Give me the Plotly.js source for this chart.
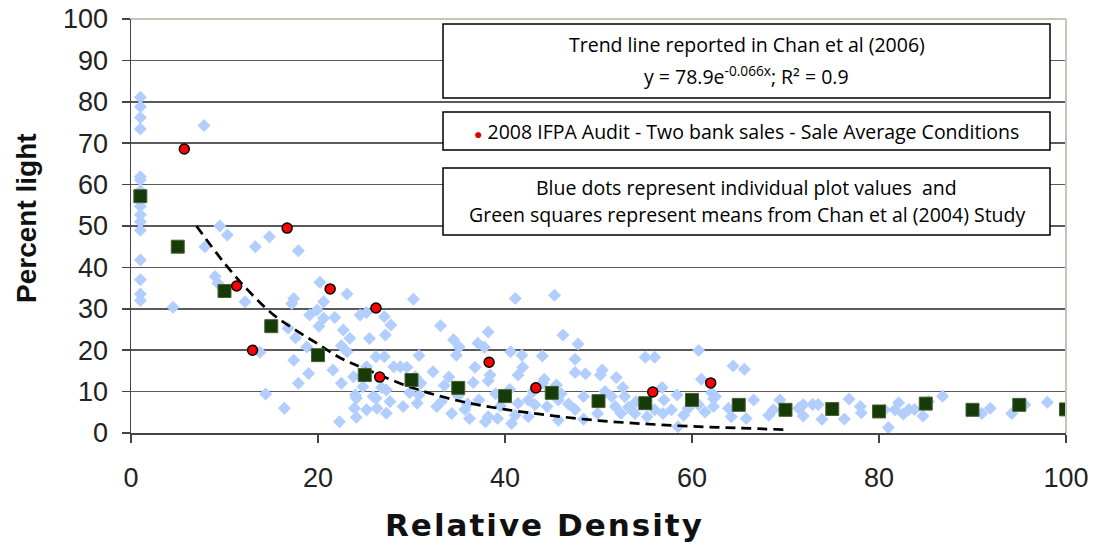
<!DOCTYPE html>
<html>
<head>
<meta charset="utf-8">
<script src="https://cdn.plot.ly/plotly-3.0.1.min.js"></script>
<style>html,body{margin:0;padding:0;background:#fff;}#chart{width:1094px;height:546px;}</style>
</head>
<body>
<div id="chart"></div>
<script>
// Individual plot values (blue diamonds)
const blueX = [
1,1,1,1,1,1,1,1,1,1,1,1,1,1,1,
4.5,7.8,9.5,10.3,7.9,13.3,14.8,17.9,9,9.3,12.2,
20.2,23.1,17.4,17.2,20.6,30.2,
19.1,19.9,20.6,21.8,20.1,24.5,25.2,27.1,27.8,
16.8,17.6,22.7,23.4,27.2,25.5,
18.8,22.5,13.8,23.1,26.2,27.1,30.8,17.4,
21.6,19,22.5,23.8,25.2,28.1,28.8,29.5,32.3,30.4,
24.8,25.9,27.3,27.7,29.1,30.6,24.1,23.9,25.2,26.3,27.3,24.1,22.3,16.4,14.4,17.9,32.7,
41.1,33.1,38.2,34.5,35.1,37.1,37.8,40.6,41.8,34.8,36.8,38.4,38.2,36.6,41.9,41.4,
26.8,30.8,29.8,24,26.2,33.2,34.3,35.7,36.2,38.2,37.9,40.7,41.1,39.2,37.2,41.4,
33.5,35,36,39,39.5,40.5,31,34,
45.3,46.2,47.8,44,47.5,47.5,48.6,50.4,50.2,51.9,55,56,60.7,44.2,45.5,52.6,56.8,61,62.1,62.3,
48.4,50.7,51.4,52.8,58.4,42.5,43.2,44.5,45.7,46.8,47.5,42.5,45.7,48.4,49.9,51.8,52.4,53.2,53.9,55.2,56,56.9,57.8,59.1,59.6,60.7,61.4,62.3,58.5,43,44,46,54,57,
64.4,65.6,62.5,63.9,64.2,65.8,66.6,68.2,68.7,69.4,71.4,71.9,71.9,72.9,73.5,73.9,76.3,76.8,78,78.1,81,80.6,81.7,82.1,82.6,83.2,83.8,84.7,85.3,86.8,91,91.9,94.2,95.6,98
];
const blueY = [
81.1,78.8,76.2,73.4,61.9,61.1,58.5,54.8,52.7,51,49,41.8,37,33.6,32,
30.4,74.3,50,47.8,45,45,47.4,44,37.8,36.2,31.7,
36.4,33.6,32.5,31.3,31.7,32.3,
28.5,29.7,27.7,27.9,25.8,28.5,29.1,28.1,26.1,
25.3,23,24.9,22.9,23.7,22.8,
20.8,21.1,19.5,19.6,18.4,18.4,18.7,17.6,
15.2,14.4,12,13.6,16,16,16,15.9,14.8,13.6,
11.2,8.8,10.4,7.6,6.4,7.2,8.4,6,5.6,6,4.8,3.8,2.7,6,9.4,12,6.4,
32.5,25.9,24.4,22.5,20.8,21.7,20.7,19.6,18.8,18.8,15.9,14,12.6,12.2,15.9,14,
11,9.2,9.7,9.2,8.4,7.6,4.7,5.7,3.5,3.9,2.7,2.3,4.3,3.5,8,7.2,
11.5,9,7,9.5,6.5,10.5,12,13.5,
33.3,23.7,21.5,18.6,17.8,14.6,14.3,15.2,14,13.4,18.3,18.3,19.9,13,11.6,11,11,13,9.7,8.3,
8.8,10,8.8,8.8,9.2,8,6.8,6.4,8,7,5.7,3.9,3.1,3.3,4.7,6.4,4.7,6.2,4.7,3.9,5.6,4.7,5.6,4.3,6,6.8,5.1,6.4,1.5,10,12,9.5,7.5,8,
16.2,15.4,8.8,6,3.9,3.5,8,4.3,5.6,8,6,6.8,4.1,6.9,6.9,3.3,3.4,8.2,6.4,4.9,1.3,5.6,5.6,7.3,4.6,5.7,5.7,4.1,7.6,8.9,4.7,6,4.7,6.8,7.4
];

// Means from Chan et al (2004) (green squares)
const meanX = [1,5,10,15,20,25,30,35,40,45,50,55,60,65,70,75,80,85,90,95,100];
const meanY = [57.2,45,34.3,25.8,18.8,14,12.8,10.9,8.9,9.7,7.7,7.2,8,6.8,5.6,5.8,5.2,7.1,5.6,6.8,5.7];

// 2008 IFPA Audit (red dots)
const auditX = [5.7,11.3,13,16.7,21.3,26.2,26.6,38.3,43.3,55.8,62];
const auditY = [68.6,35.5,20,49.5,34.8,30.2,13.5,17.1,10.9,9.9,12.1];

// Trend line (Chan et al 2006)
const trendX = [7,10,12.5,15,17.5,20,22.5,25,30,35,40,45,50,55,60,65,70];
const trendY = [50,41,34.5,29,25,21.5,18,15.5,11,7.8,5.7,4.2,3.0,2.2,1.6,1.2,0.8];

const xTicks = [0,20,40,60,80,100];
const yTicks = [0,10,20,30,40,50,60,70,80,90,100];

const traces = [
  {x: blueX, y: blueY, type: 'scatter', mode: 'markers',
   marker: {symbol: 'diamond', size: 10, color: 'rgb(178,206,255)'}, hoverinfo: 'x+y'},
  {x: trendX, y: trendY, type: 'scatter', mode: 'lines', line: {shape: 'spline', color: '#000', width: 2.7, dash: '10px,6px'}},
  {x: meanX, y: meanY, type: 'scatter', mode: 'markers',
   marker: {symbol: 'square', size: 13, color: 'rgb(22,58,8)', line: {color: 'rgb(70,100,50)', width: 1}}},
  {x: auditX, y: auditY, type: 'scatter', mode: 'markers',
   marker: {symbol: 'circle', size: 10, color: '#ff0000', line: {color: '#000', width: 1.5}}}
];

const boxFont = {family: 'Open Sans, sans-serif', size: 19.5, color: '#000'};
const cx = 0.6583;
function txt(y, t) {
  return {xref: 'paper', yref: 'paper', x: cx, y: y, text: t, showarrow: false,
          xanchor: 'center', yanchor: 'middle', font: boxFont};
}
function box(y0, y1) {
  return {type: 'rect', xref: 'paper', yref: 'paper', x0: 0.3337, x1: 0.9829, y0: y0, y1: y1,
          fillcolor: '#fff', line: {color: '#000', width: 1.5}, layer: 'above'};
}

const layout = {
  width: 1094, height: 546,
  margin: {l: 131, r: 28, t: 19, b: 113},
  paper_bgcolor: '#fff', plot_bgcolor: '#fff',
  showlegend: false,
  font: {family: 'Liberation Sans, Arial, sans-serif', color: '#222'},
  xaxis: {range: [0, 100], tickvals: xTicks, ticktext: xTicks.map(String), showgrid: false, zeroline: false,
          showline: true, linecolor: '#444', linewidth: 2, ticks: 'outside', ticklen: 8, tickcolor: '#444', tickwidth: 1.5,
          tickfont: {size: 27, color: '#222'}, ticklabelstandoff: 12, fixedrange: true},
  yaxis: {range: [0, 100], tickvals: yTicks, ticktext: yTicks.map(String), showgrid: true, gridcolor: '#5a5a5a', gridwidth: 1.5,
          zeroline: false, showline: true, linecolor: '#444', linewidth: 1.5, ticks: 'outside', ticklen: 8, tickcolor: '#444', tickwidth: 1.5,
          tickfont: {size: 27, color: '#222'}, ticklabelstandoff: 8, fixedrange: true},
  shapes: [
    {type: 'line', xref: 'paper', yref: 'paper', x0: 0, x1: 1, y0: 1, y1: 1, line: {color: '#c8c4b8', width: 2}, layer: 'above'},
    {type: 'line', xref: 'paper', yref: 'paper', x0: 1, x1: 1, y0: 0, y1: 1, line: {color: '#c8c4b8', width: 2}, layer: 'above'},
    box(0.8092, 0.9879), box(0.6836, 0.7754), box(0.4783, 0.6401)
  ],
  annotations: [
    txt(0.9372, 'Trend line reported in Chan et al (2006)'),
    txt(0.8647, 'y = 78.9e<sup>-0.066x</sup>; R² = 0.9'),
    txt(0.7271, '<span style="color:#e00000;font-size:14px">●</span> 2008 IFPA Audit - Two bank sales - Sale Average Conditions'),
    txt(0.5918, 'Blue dots represent individual plot values  and'),
    txt(0.5266, 'Green squares represent means from Chan et al (2004) Study'),
    {xref: 'paper', yref: 'paper', x: (544 - 131) / 935, y: -0.222,
     text: '<span style="letter-spacing:2px"><b>Relative Density</b></span>', showarrow: false,
     xanchor: 'center', yanchor: 'middle', font: {family: 'DejaVu Sans, sans-serif', size: 31, color: '#111'}},
    {xref: 'paper', yref: 'paper', x: (26 - 131) / 935, y: (433 - 218) / 414, text: '<b>Percent light</b>', showarrow: false, textangle: -90,
     xanchor: 'center', yanchor: 'middle', font: {family: 'Liberation Sans, Arial, sans-serif', size: 28, color: '#111'}}
  ]
};

Plotly.newPlot('chart', traces, layout, {displayModeBar: false, staticPlot: true});
</script>
</body>
</html>
